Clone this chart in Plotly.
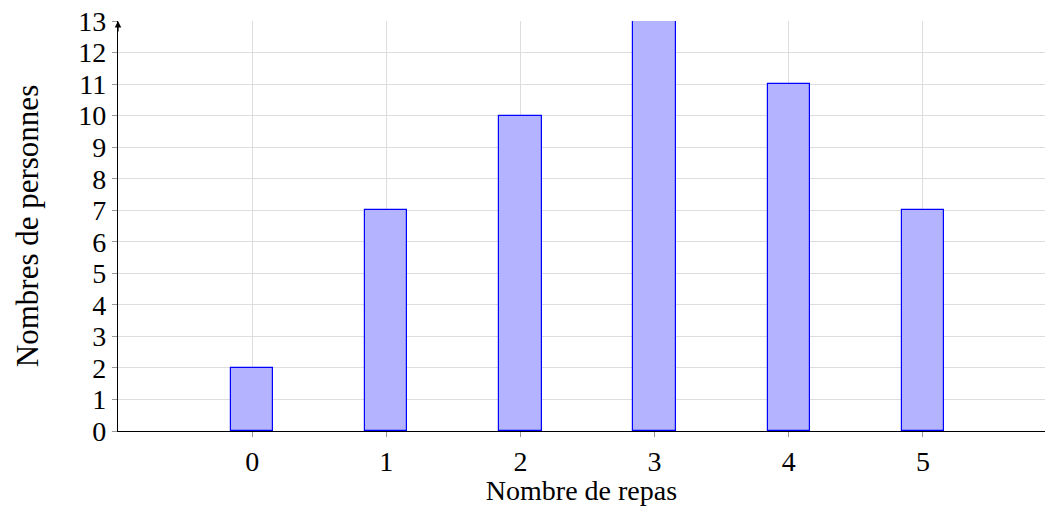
import plotly.graph_objects as go

repas = [0, 1, 2, 3, 4, 5]
personnes = [2, 7, 10, 13, 11, 7]
y_ticks = list(range(0, 14))
x_title = "Nombre de repas"
y_title = "Nombres de personnes"

font_family = "Liberation Serif"
fs = 28

fig = go.Figure()
fig.add_trace(go.Bar(
    x=repas, y=personnes, width=0.315,
    marker=dict(color="#b3b3ff", line=dict(color="#0000ff", width=1.2)),
    showlegend=False,
))

fig.update_layout(
    width=1046, height=506,
    margin=dict(l=118, r=1, t=21, b=75, autoexpand=False),
    plot_bgcolor="white", paper_bgcolor="white",
    font=dict(family=font_family, size=fs, color="black"),
    bargap=0,
)
fig.update_xaxes(
    range=[-1, 5.91], tickvals=repas, ticktext=[str(v) for v in repas],
    showgrid=True, gridcolor="#dddddd", gridwidth=1,
    showline=True, linecolor="black", linewidth=1.3,
    ticks="outside", ticklen=5, tickcolor="#999999",
    zeroline=False, automargin=False, ticklabeloverflow="allow",
    title=dict(text=x_title, standoff=1, font=dict(size=fs)),
    tickfont=dict(size=fs),
)
fig.update_yaxes(
    range=[0, 13], tickvals=y_ticks, ticktext=[str(v) for v in y_ticks],
    showgrid=True, gridcolor="#dddddd", gridwidth=1,
    showline=True, linecolor="black", linewidth=1.3,
    ticks="outside", ticklen=5, tickcolor="#999999",
    zeroline=False, automargin=False, ticklabeloverflow="allow",
    title=dict(text=y_title, standoff=30, font=dict(size=31)),
    tickfont=dict(size=fs),
)
fig.add_annotation(
    xref="paper", yref="y", x=0, y=13, ax=0, ay=12,
    axref="pixel", ayref="pixel",
    showarrow=True, arrowhead=2, arrowsize=1, arrowwidth=1.3,
    arrowcolor="black", text="",
)
fig.write_html(
    "out.html",
    config={"displayModeBar": False},
    post_script="document.body.style.margin='0px';document.body.style.overflow='hidden';",
)
